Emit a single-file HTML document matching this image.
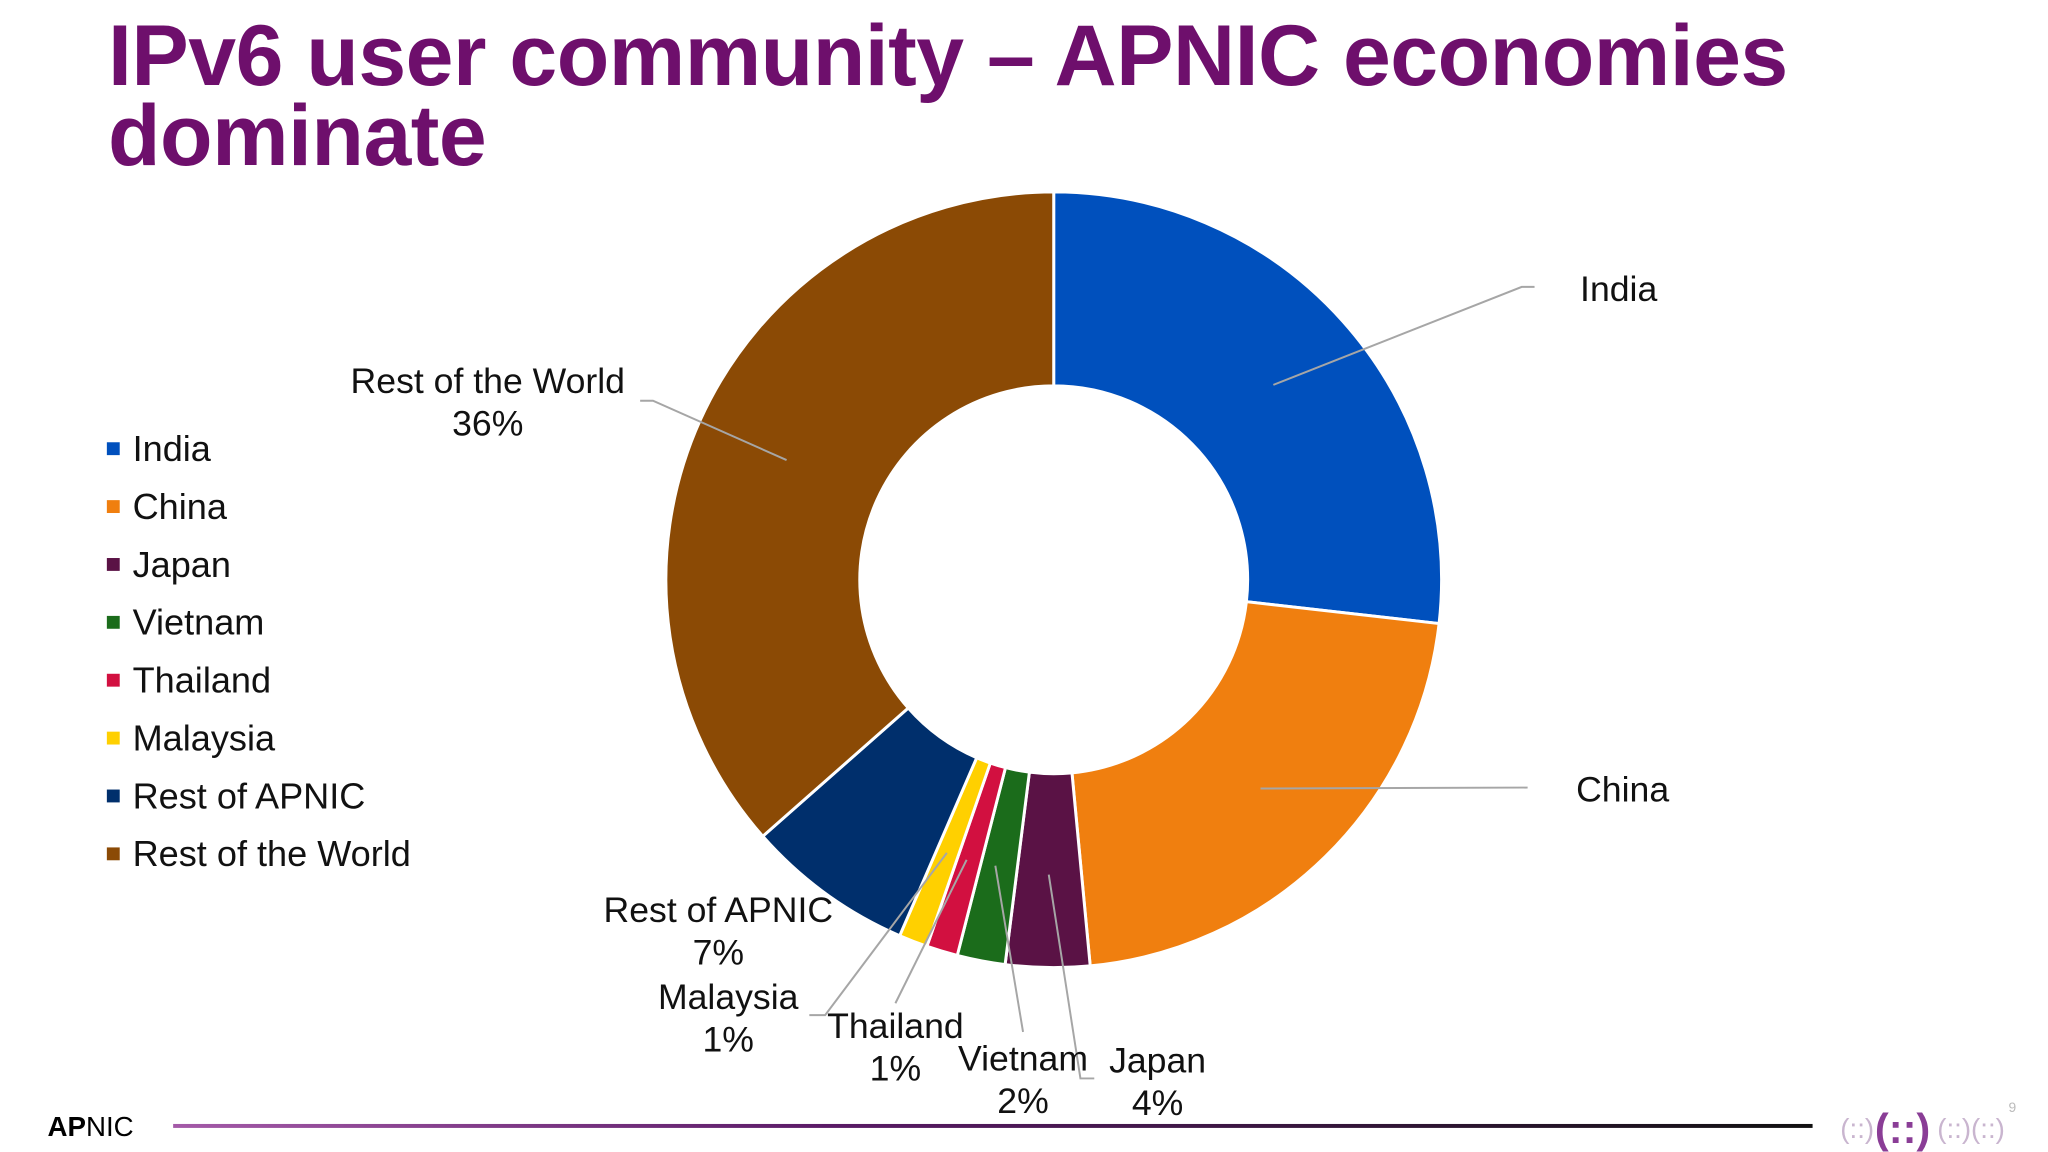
<!DOCTYPE html>
<html><head><meta charset="utf-8">
<style>
html,body{margin:0;padding:0;background:#fff;}
body{width:2048px;height:1152px;overflow:hidden;position:relative;font-family:"Liberation Sans",Arial,sans-serif;}
#title{position:absolute;left:108px;top:16px;margin:0;font-size:86px;line-height:80px;font-weight:bold;color:#6e0f6c;letter-spacing:-0.5px;}
svg{position:absolute;left:0;top:0;}
</style></head>
<body>
<h1 id="title">IPv6 user community – APNIC economies<br>dominate</h1>
<svg id="chart" width="2048" height="1152">
  <defs>
    <linearGradient id="lg" x1="0" x2="1" y1="0" y2="0">
      <stop offset="0" stop-color="#a45aa8"/>
      <stop offset="0.4" stop-color="#5a1a66"/>
      <stop offset="1" stop-color="#111"/>
    </linearGradient>
  </defs>
  <g transform="scale(0.9894)">
  <g id="slices"></g>
  <g id="legend"></g>
  <g id="labels" font-size="34" fill="#111"></g>
  <text x="48" y="1148" font-size="28" font-weight="bold" fill="#000">AP<tspan font-weight="normal">NIC</tspan></text>
  <rect x="175" y="1136" width="1657" height="4" fill="url(#lg)"/>
  <g fill="#b99cc2">
    <text x="1860" y="1150" font-size="28" fill="#c9b5cf">(::)</text>
    <text x="1895" y="1155" font-size="42" font-weight="bold" fill="#8a3d96">(::)</text>
    <text x="1958" y="1150" font-size="28" fill="#c9b5cf">(::)(::)</text>
    <text x="2030" y="1124" font-size="14" fill="#bbb">9</text>
  </g>
  </g>
</svg>
<script>
const categories = ["India","China","Japan","Vietnam","Thailand","Malaysia","Rest of APNIC","Rest of the World"];
const values = [26.8,21.7,3.5,2,1.3,1.2,7,36.5];
const pctLabels = ["","","4%","2%","1%","1%","7%","36%"];
const colors = ["#0050bd","#f07f0f","#5a1245","#1b6c1b","#d21040","#ffd000","#002f6c","#8b4a05"];

const NS="http://www.w3.org/2000/svg";
const cx=1065, cy=586, R=392, r=196;
const total=values.reduce((a,b)=>a+b,0);
function angleOf(v){return v/total*2*Math.PI;}
function pt(rad,a){return [cx+rad*Math.sin(a), cy-rad*Math.cos(a)];}
const sg=document.getElementById('slices');
let acc=0;
values.forEach((v,i)=>{
  const a0=angleOf(acc), a1=angleOf(acc+v); acc+=v;
  const large=(a1-a0)>Math.PI?1:0;
  const p0=pt(R,a0),p1=pt(R,a1),q1=pt(r,a1),q0=pt(r,a0);
  const p=document.createElementNS(NS,'path');
  p.setAttribute('d',`M${p0[0]},${p0[1]} A${R},${R} 0 ${large} 1 ${p1[0]},${p1[1]} L${q1[0]},${q1[1]} A${r},${r} 0 ${large} 0 ${q0[0]},${q0[1]} Z`);
  p.setAttribute('fill',colors[i]);
  p.setAttribute('stroke','#fff');
  p.setAttribute('stroke-width','3');
  
  
  sg.appendChild(p);
});
const lg=document.getElementById('legend');
categories.forEach((c,i)=>{
  const y=454+i*58.5;
  const g=document.createElementNS(NS,'g');
  
  
  const rc=document.createElementNS(NS,'rect');
  rc.setAttribute('x',108);rc.setAttribute('y',y-7);rc.setAttribute('width',13);rc.setAttribute('height',13);
  rc.setAttribute('fill',colors[i]);
  const t=document.createElementNS(NS,'text');
  t.setAttribute('x',134);t.setAttribute('y',y+12);t.setAttribute('font-size','36.5');t.setAttribute('fill','#111');
  t.textContent=c;
  g.appendChild(rc);g.appendChild(t);lg.appendChild(g);
});
const labelPos=[[1636,292],[1640,798],[1170,1072],[1034,1070],[905,1037],[736,1008],[726,920],[493,385]];
const leaders=[
  [[1287,389],[1538,290],[1551,290]],
  [[1274,797],[1544,796]],
  [[1060,884],[1092,1090],[1106,1090]],
  [[1006,875],[1034,1043]],
  [[977,869],[905,1014]],
  [[957,862],[834,1026],[818,1026]],
  null,
  [[795,465],[660,405],[647,405]]
];
const lb=document.getElementById('labels');
categories.forEach((c,i)=>{
  if(leaders[i]){
    const pl=document.createElementNS(NS,'polyline');
    pl.setAttribute('points',leaders[i].map(p=>p.join(',')).join(' '));
    pl.setAttribute('fill','none');pl.setAttribute('stroke','#a6a6a6');pl.setAttribute('stroke-width','2');
    
    
    lb.appendChild(pl);
  }
  const [x,y]=labelPos[i];
  const t=document.createElementNS(NS,'text');
  t.setAttribute('x',x);t.setAttribute('y',y+12);t.setAttribute('text-anchor','middle');t.setAttribute('font-size','36');
  
  
  t.textContent=c;
  lb.appendChild(t);
  if(pctLabels[i]){
    const t2=document.createElementNS(NS,'text');
    t2.setAttribute('x',x);t2.setAttribute('y',y+55);t2.setAttribute('text-anchor','middle');t2.setAttribute('font-size','36');
    
    
    t2.textContent=pctLabels[i];
    lb.appendChild(t2);
  }
});
</script>
</body></html>
